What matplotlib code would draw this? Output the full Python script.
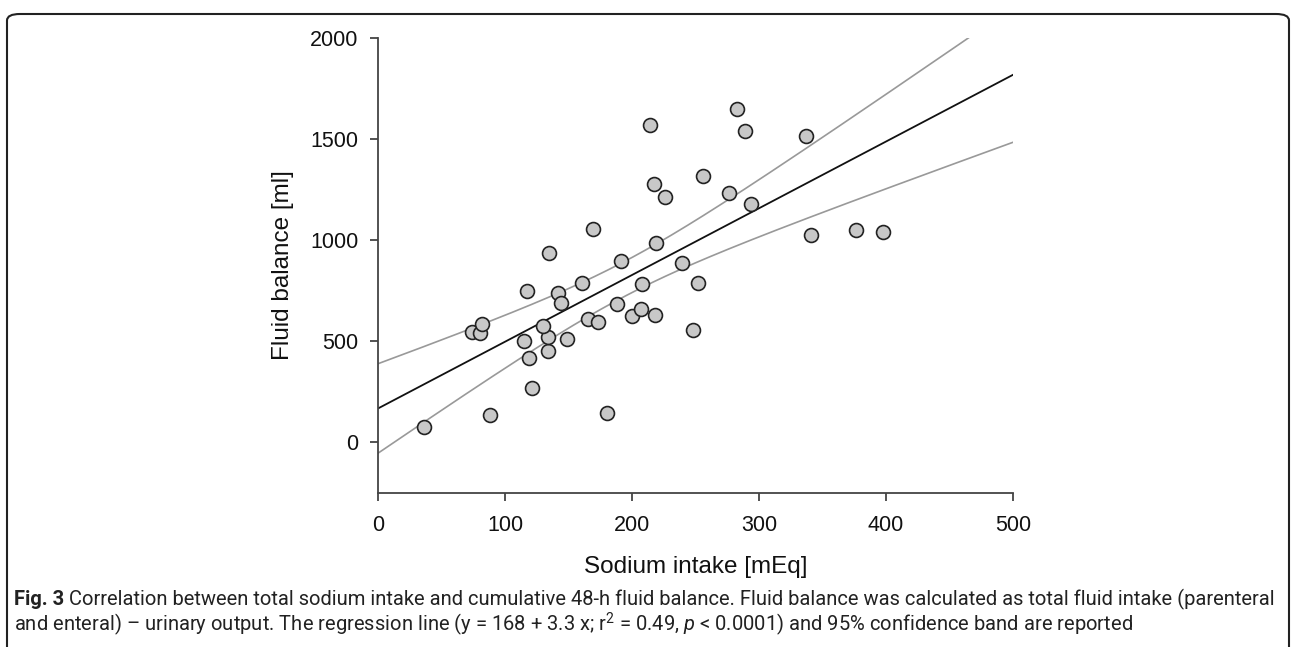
import numpy as np
import matplotlib
matplotlib.use("Agg")
import matplotlib.pyplot as plt
from matplotlib.patches import FancyBboxPatch

# sodium intake [mEq] vs fluid balance [ml]
sodium = [36, 88, 121, 119, 115, 134, 134, 130, 149, 74, 80, 82, 117, 142, 144,
          161, 165, 173, 180, 188, 200, 207, 218, 208, 248, 214, 217, 226, 169,
          135, 219, 191, 239, 283, 289, 337, 256, 276, 294, 341, 376, 398, 252]
fluid = [75, 137, 267, 420, 504, 454, 519, 578, 514, 548, 543, 587, 751, 741, 691,
         790, 612, 598, 148, 686, 627, 662, 632, 785, 558, 1570, 1279, 1215, 1057,
         938, 988, 899, 886, 1649, 1541, 1516, 1318, 1235, 1180, 1027, 1052, 1042, 788]

intercept, slope = 168, 3.3   # from the caption
x_ticks = [0, 100, 200, 300, 400, 500]
y_ticks = [0, 500, 1000, 1500, 2000]

plt.rcParams['font.family'] = ['Liberation Sans', 'DejaVu Sans']

W, H = 1292, 647
fig = plt.figure(figsize=(W/100, H/100), dpi=100)
ax = fig.add_axes([378/W, 1-493/H, 635/W, 455/H])

x = np.array(sodium, float)
y = np.array(fluid, float)
n = len(x)
xs = np.linspace(0, 500, 200)
fit = intercept + slope*xs
res = y - (intercept + slope*x)
s = np.sqrt(np.sum(res**2)/(n-2))
sxx = np.sum((x - x.mean())**2)
half = 2.02*s*np.sqrt(1/n + (xs - x.mean())**2/sxx)

ax.plot(xs, fit + half, color='#999999', lw=1.2)
ax.plot(xs, fit - half, color='#999999', lw=1.2)
ax.plot(xs, fit, color='#111111', lw=1.3)
ax.scatter(x, y, s=100, facecolor='#c8c8c8', edgecolor='#222222', lw=1.2, zorder=3)

ax.set_xlim(0, 500)
ax.set_ylim(-250, 2000)
ax.set_xticks(x_ticks)
ax.set_yticks(y_ticks)
for sp in ['top', 'right']:
    ax.spines[sp].set_visible(False)
for sp in ['left', 'bottom']:
    ax.spines[sp].set_color('#444444')
    ax.spines[sp].set_linewidth(1.3)
ax.tick_params(direction='out', length=6, width=1.3, color='#444444',
               labelsize=15.5, labelcolor='#111111')
ax.tick_params(axis='x', pad=10)
ax.tick_params(axis='y', pad=8)
ax.set_xlabel('Sodium intake [mEq]', fontsize=17.5, color='#111111')
ax.set_ylabel('Fluid balance [ml]', fontsize=17.5, color='#111111')
ax.xaxis.label.set_va('center')
ax.yaxis.label.set_va('center')
ax.xaxis.set_label_coords(0.5, (493-567)/455)
ax.yaxis.set_label_coords((283-378)/635, 0.5)

# frame around figure + caption
fig.patches.append(FancyBboxPatch((7/W, -20/H), 1282/W, 653/H,
                                  boxstyle='round,pad=0,rounding_size=0.01',
                                  transform=fig.transFigure, fill=False,
                                  edgecolor='#222222', lw=1.5))

plt.rcParams['mathtext.fontset'] = 'custom'
plt.rcParams['mathtext.rm'] = 'Roboto'
plt.rcParams['mathtext.it'] = 'Roboto:italic'
cap = dict(family=['Roboto', 'DejaVu Sans'], color='#222222', va='baseline')
line1 = ('Correlation between total sodium intake and cumulative 48-h fluid balance. '
         'Fluid balance was calculated as total fluid intake (parenteral')
line2 = ('and enteral) \u2013 urinary output. The regression line (y = 168 + 3.3 x; '
         r'r$^2$ = 0.49, $p$ < 0.0001) and 95% confidence band are reported')

size = 13
r = fig.canvas.get_renderer()
t1 = fig.text(14/W, 1-605/H, 'Fig. 3', weight='bold', fontsize=size, **cap)
t2 = fig.text(0, 1-605/H, line1, fontsize=size, **cap)
w1 = t1.get_window_extent(r).width
w2 = t2.get_window_extent(r).width
size = size*(1275-14-5)/(w1 + w2)
t1.set_fontsize(size)
t2.set_fontsize(size)
w1 = t1.get_window_extent(r).width
t2.set_x((14 + w1 + 5)/W)
fig.text(14/W, 1-631/H, line2, fontsize=size, **cap)

fig.savefig('out.png', dpi=100)
